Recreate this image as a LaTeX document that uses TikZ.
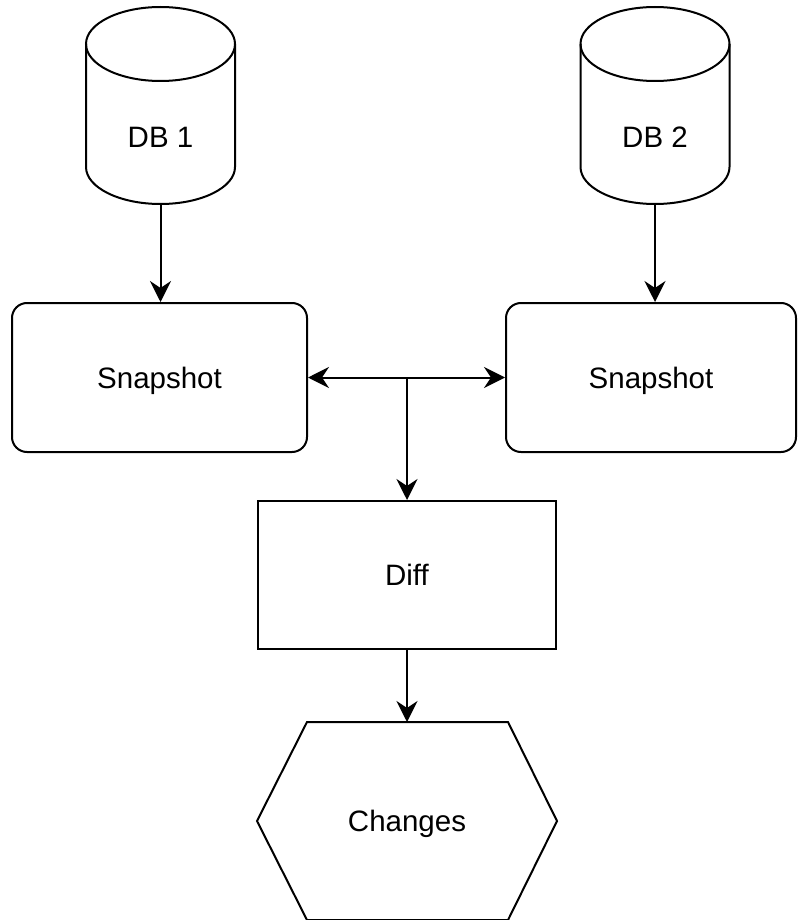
\documentclass[tikz,border=0pt]{standalone}
\usepackage{fontspec}
\setmainfont{Liberation Sans}
\usetikzlibrary{arrows.meta,calc}

\tikzset{
  every picture/.style={x=1pt,y=1pt,line width=2pt},
  lbl/.style={font=\fontsize{29.5}{35}\selectfont,text height=21pt,text depth=0pt,inner sep=0pt},
  snapbox/.style={lbl,draw,rounded corners=15pt,minimum height=149pt,fill=white},
  diffbox/.style={lbl,draw,minimum width=298pt,minimum height=148pt,fill=white},
  hexbox/.style={lbl,minimum width=298pt,minimum height=196pt},
  flow/.style={-{Stealth[length=21pt,width=21pt,inset=7pt]}},
  biflow/.style={{Stealth[length=21pt,width=21pt,inset=7pt]}-{Stealth[length=21pt,width=21pt,inset=7pt]}},
}

% database cylinder: #1 name, #2 centre x, #3 label
\newcommand{\dbcylinder}[3]{%
  \filldraw[fill=white] (#2-74.5,-44) -- (#2-74.5,-167)
    arc[start angle=180,end angle=360,x radius=74.5pt,y radius=37pt]
    -- (#2+74.5,-44);
  \draw (#2,-44) ellipse[x radius=74.5pt,y radius=37pt];
  \node[lbl] (#1) at (#2,-137) {#3};
  \coordinate (#1bot) at (#2,-204);
}

\begin{document}
\begin{tikzpicture}
  \useasboundingbox (0,0) rectangle (797,-920);

  \dbcylinder{db1}{160.5}{DB 1}
  \dbcylinder{db2}{655}{DB 2}

  \node[snapbox,minimum width=295pt] (snap1) at (159.5,-377.5) {Snapshot};
  \node[snapbox,minimum width=290pt] (snap2) at (651,-377.5) {Snapshot};

  \node[diffbox] (diff) at (407,-575) {Diff};

  \node[hexbox] (chg) at (407,-821) {Changes};
  \draw (chg.west) -- ($(chg.north west)+(50,0)$) -- ($(chg.north east)+(-49,0)$)
        -- (chg.east) -- ($(chg.south east)+(-49,0)$) -- ($(chg.south west)+(50,0)$) -- cycle;

  \coordinate (junc) at (407,-377.5);

  \draw[flow] (db1bot) -- (db1bot |- snap1.north);
  \draw[flow] (db2bot) -- (db2bot |- snap2.north);
  \draw[biflow] (snap1.east) -- (snap2.west);
  \draw[flow] (junc) -- (diff.north);
  \draw[flow] (diff.south) -- (chg.north);
\end{tikzpicture}
\end{document}
